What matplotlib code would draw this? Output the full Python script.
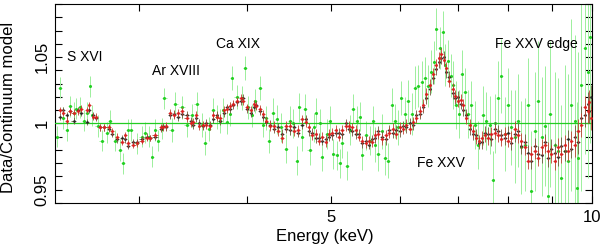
import numpy as np
import matplotlib
matplotlib.use('Agg')
import matplotlib.pyplot as plt
from matplotlib.ticker import FixedLocator, FixedFormatter, NullFormatter, MultipleLocator

plt.rcParams['font.family'] = ['Liberation Sans', 'DejaVu Sans']

# Datos: cociente datos/continuo (dos detectores FI: rojo y negro, mismo binning)
energia_fi = [
    2.432, 2.454, 2.475, 2.498, 2.521, 2.553, 2.572, 2.611, 2.629, 2.658, 2.676, 2.705, 2.737, 2.767,
    2.795, 2.829, 2.866, 2.892, 2.915, 2.956, 2.981, 3.021, 3.061, 3.089, 3.132, 3.180, 3.201,
    3.225, 3.257, 3.293, 3.329, 3.361, 3.404, 3.441, 3.467, 3.492, 3.521, 3.554, 3.586, 3.622, 3.654,
    3.687, 3.720, 3.761, 3.786, 3.820, 3.854, 3.894, 3.930, 3.958, 3.999, 4.037, 4.072, 4.099, 4.137,
    4.175, 4.209,
    4.248, 4.298, 4.343, 4.390, 4.432, 4.480, 4.533, 4.580, 4.630, 4.673, 4.711, 4.754, 4.800, 4.838,
    4.883, 4.929, 4.968, 5.013, 5.060, 5.102, 5.148, 5.198, 5.239, 5.287, 5.337, 5.380, 5.429, 5.481,
    5.525, 5.576,
    5.617, 5.664, 5.716, 5.784, 5.831, 5.886, 5.940, 6.000, 6.054, 6.107, 6.162, 6.218, 6.270, 6.328,
    6.385, 6.439, 6.498, 6.556, 6.605, 6.660, 6.703, 6.746, 6.791, 6.838, 6.903, 6.952, 7.004, 7.051,
    7.101, 7.161, 7.226, 7.292, 7.354, 7.406,
    7.455, 7.522, 7.585, 7.655, 7.726, 7.789, 7.861, 7.933, 7.998, 8.073, 8.147, 8.214, 8.291, 8.366,
    8.436, 8.514, 8.592, 8.663, 8.744, 8.823, 8.896, 8.979, 9.060, 9.135, 9.220, 9.304, 9.380, 9.468,
    9.554, 9.633, 9.724, 9.812, 9.893, 9.930, 9.970,
]

ratio_rojo = [
    1.010, 1.008, 1.002, 1.009, 1.008, 1.009, 1.011, 1.010, 1.014, 1.005, 1.005, 0.997, 0.997, 0.997,
    0.994, 0.990, 0.986, 0.991, 0.985, 0.984, 0.985, 0.987, 0.989, 0.989, 0.991, 0.997, 0.997,
    0.998, 1.008, 1.006, 1.008, 1.009, 1.004, 1.000, 1.001, 1.006, 0.998, 0.999, 0.999, 0.998, 1.006,
    1.005, 1.004, 1.010, 1.011, 1.013, 1.015, 1.017, 1.019, 1.017, 1.012, 1.010, 1.015, 1.013, 1.011,
    1.007, 1.002,
    0.998, 0.998, 0.994, 0.989, 0.998, 0.998, 0.994, 0.995, 1.003, 1.001, 0.997, 0.991, 0.992, 0.987,
    0.990, 0.986, 0.992, 0.993, 0.995, 0.990, 0.995, 0.998, 0.998, 0.997, 0.995, 0.990, 0.987, 0.985,
    0.987, 0.986,
    0.991, 0.992, 0.988, 0.991, 0.993, 0.996, 0.992, 0.997, 0.996, 0.999, 0.996, 1.001, 1.004, 1.009,
    1.014, 1.022, 1.029, 1.037, 1.044, 1.049, 1.052, 1.048, 1.042, 1.032, 1.026, 1.021, 1.017, 1.018,
    1.014, 1.004, 0.999, 0.994, 0.989, 0.987,
    0.989, 0.991, 0.989, 0.992, 0.993, 0.991, 0.988, 0.992, 0.987, 0.989, 0.996, 0.991, 0.987, 0.982,
    0.972, 0.977, 0.979, 0.974, 0.982, 0.984, 0.979, 0.977, 0.972, 0.982, 0.977, 0.984, 0.979, 0.987,
    0.984, 0.994, 0.999, 1.012, 1.009, 1.016, 1.004,
]

ratio_negro = [
    1.005, 1.010, 1.006, 1.009, 1.002, 1.010, 1.008, 1.001, 1.010, 1.006, 1.004, 0.997, 0.997, 0.996,
    0.992, 0.988, 0.989, 0.988, 0.983, 0.986, 0.986, 0.988, 0.990, 0.989, 0.990, 0.996, 0.998,
    0.997, 1.006, 1.007, 1.005, 1.007, 1.006, 1.002, 0.999, 1.004, 1.000, 0.998, 1.000, 0.999, 1.003,
    1.006, 1.002, 1.008, 1.012, 1.011, 1.014, 1.016, 1.017, 1.019, 1.011, 1.008, 1.012, 1.014, 1.009,
    1.005, 1.001,
    0.999, 0.996, 0.997, 0.992, 0.996, 0.995, 0.997, 0.993, 0.999, 1.003, 0.994, 0.993, 0.989, 0.989,
    0.987, 0.988, 0.990, 0.991, 0.993, 0.993, 0.992, 1.000, 0.996, 0.994, 0.992, 0.992, 0.985, 0.987,
    0.984, 0.988,
    0.989, 0.994, 0.990, 0.988, 0.995, 0.993, 0.995, 0.994, 0.998, 0.997, 1.000, 0.999, 1.006, 1.007,
    1.012, 1.019, 1.026, 1.034, 1.041, 1.046, 1.049, 1.050, 1.039, 1.035, 1.023, 1.019, 1.020, 1.015,
    1.010, 1.006, 0.996, 0.992, 0.991, 0.985,
    0.986, 0.993, 0.992, 0.988, 0.996, 0.994, 0.991, 0.989, 0.993, 0.985, 0.992, 0.994, 0.983, 0.986,
    0.978, 0.972, 0.983, 0.977, 0.976, 0.986, 0.974, 0.981, 0.978, 0.975, 0.983, 0.979, 0.988, 0.981,
    0.990, 0.986, 1.004, 1.006, 1.015, 1.009, 1.020,
]

error_fi = [
    0.0025, 0.0025, 0.0025, 0.0025, 0.0025, 0.0025, 0.0025, 0.0025, 0.0025, 0.0025, 0.0025, 0.0025,
    0.0025, 0.0025, 0.0025, 0.0025, 0.0025, 0.0025, 0.0025, 0.0025, 0.0025, 0.0025, 0.0025, 0.0025,
    0.0025, 0.0025, 0.0025,
    0.003, 0.003, 0.003, 0.003, 0.003, 0.003, 0.003, 0.003, 0.003, 0.003, 0.003, 0.003, 0.003, 0.003,
    0.003, 0.003, 0.003, 0.003, 0.003, 0.003, 0.003, 0.003, 0.003, 0.003, 0.003, 0.003, 0.003, 0.003,
    0.003, 0.003,
    0.0035, 0.0035, 0.0035, 0.0035, 0.0035, 0.0035, 0.0035, 0.0035, 0.0035, 0.0035, 0.0035, 0.0035,
    0.0035, 0.0035, 0.0035, 0.0035, 0.0035, 0.0035, 0.0035, 0.0035, 0.0035, 0.0035, 0.0035, 0.0035,
    0.0035, 0.0035, 0.0035, 0.0035, 0.0035, 0.0035,
    0.004, 0.004, 0.004, 0.004, 0.004, 0.004, 0.004, 0.004, 0.004, 0.004, 0.004, 0.004, 0.004, 0.004,
    0.0045, 0.0045, 0.0045, 0.0045, 0.0045, 0.0045, 0.0045, 0.0045, 0.0045, 0.0045, 0.0045, 0.0045,
    0.0045, 0.0045, 0.0045, 0.0045, 0.0045, 0.0045, 0.0045, 0.0045,
    0.005, 0.005, 0.005, 0.005, 0.005, 0.005, 0.005, 0.005, 0.005, 0.005,
    0.006, 0.006, 0.006, 0.006, 0.006, 0.006, 0.006, 0.006, 0.006, 0.006,
    0.007, 0.007, 0.007, 0.007, 0.007, 0.007, 0.007, 0.007,
    0.009, 0.009, 0.009, 0.009, 0.009, 0.009, 0.009,
]

# Tercer detector (verde), mas ruidoso
energia_verde = [
    2.413, 2.432, 2.454, 2.475, 2.498, 2.521, 2.537, 2.565, 2.589, 2.611, 2.634, 2.651, 2.688, 2.717,
    2.754, 2.778, 2.816, 2.852, 2.878, 2.910, 2.937, 2.981, 3.021, 3.049, 3.081, 3.109, 3.132, 3.158,
    3.187, 3.209,
    3.273, 3.302, 3.361, 3.404, 3.451, 3.499, 3.545, 3.577, 3.615, 3.649, 3.687, 3.720, 3.754, 3.786,
    3.820, 3.838, 3.892, 3.940, 3.977, 4.009, 4.047, 4.084, 4.137, 4.175, 4.209, 4.239,
    4.287, 4.324, 4.376, 4.432, 4.480, 4.521, 4.560, 4.591, 4.630, 4.663, 4.724, 4.780, 4.800, 4.852,
    4.875, 4.941, 4.982, 5.027, 5.073, 5.116, 5.148, 5.212, 5.254, 5.301, 5.351, 5.395, 5.429, 5.481,
    5.541, 5.592,
    5.617, 5.664, 5.716, 5.768, 5.816, 5.870, 5.924, 5.973, 6.027, 6.082, 6.134, 6.191, 6.247, 6.298,
    6.357, 6.415, 6.468, 6.527, 6.569, 6.613, 6.673, 6.723, 6.765, 6.820, 6.866, 6.914, 6.965, 7.023,
    7.070, 7.134, 7.193, 7.259, 7.327, 7.387,
    7.488, 7.552, 7.620, 7.681, 7.726, 7.789, 7.861, 7.933, 7.998, 8.073, 8.147, 8.214, 8.291, 8.366,
    8.436, 8.514, 8.592, 8.663, 8.744, 8.823, 8.890, 8.937, 9.060, 9.135, 9.220, 9.304, 9.380, 9.468,
    9.554, 9.601, 9.633, 9.724, 9.812, 9.893, 9.939,
]

ratio_verde = [
    0.990, 1.027, 1.004, 0.995, 1.013, 1.008, 1.011, 1.012, 1.002, 1.008, 1.028, 1.006, 0.998, 0.987,
    0.993, 1.002, 0.987, 0.980, 0.970, 0.995, 0.995, 0.985, 0.990, 0.993, 0.990, 0.975, 0.995, 0.987,
    0.996, 1.019,
    0.995, 1.015, 1.012, 0.999, 1.006, 1.015, 0.999, 0.985, 0.996, 1.010, 1.005, 1.002, 1.010, 1.001,
    1.007, 1.034, 1.020, 1.019, 1.042, 1.012, 1.006, 1.017, 1.027, 0.999, 1.004, 0.987,
    1.008, 1.003, 0.997, 0.981, 1.002, 1.000, 0.972, 1.012, 0.990, 1.011, 0.980, 0.997, 1.008, 1.000,
    0.975, 0.992, 1.002, 0.977, 0.976, 0.970, 0.985, 0.968, 0.995, 1.011, 1.002, 1.005, 0.976, 0.991,
    0.987, 1.002,
    0.984, 0.977, 0.994, 0.974, 0.972, 1.014, 1.002, 0.997, 1.019, 1.007, 1.017, 1.007, 1.027, 1.028,
    1.031, 1.034, 1.028, 1.039, 1.046, 1.071, 1.057, 1.069, 1.044, 1.047, 1.036, 1.029, 1.014, 1.007,
    1.037, 1.024, 1.007, 1.014, 0.999, 0.984,
    1.006, 1.002, 0.999, 0.957, 1.000, 1.019, 1.036, 0.992, 1.014, 0.997, 0.990, 1.002, 0.982, 0.984,
    1.014, 0.949, 0.994, 1.017, 0.990, 0.998, 0.945, 1.007, 0.984, 0.979, 0.959, 0.979, 0.972, 1.014,
    1.002, 0.951, 0.974, 1.029, 1.057, 1.039, 1.065,
]

error_verde = [
    0.008, 0.008, 0.008, 0.008, 0.008, 0.008, 0.008, 0.008, 0.008, 0.008, 0.008, 0.008, 0.008, 0.008,
    0.008, 0.008, 0.008, 0.008, 0.008, 0.008, 0.008, 0.008, 0.008, 0.008, 0.008, 0.008, 0.008, 0.008,
    0.008, 0.008,
    0.009, 0.009, 0.009, 0.009, 0.009, 0.009, 0.009, 0.009, 0.009, 0.009, 0.009, 0.009, 0.009, 0.009,
    0.009, 0.009, 0.009, 0.009, 0.009, 0.009, 0.009, 0.009, 0.009, 0.009, 0.009, 0.009,
    0.011, 0.011, 0.011, 0.011, 0.011, 0.011, 0.011, 0.011, 0.011, 0.011, 0.011, 0.011, 0.011, 0.011,
    0.011, 0.011, 0.011, 0.011, 0.011, 0.011, 0.011, 0.011, 0.011, 0.011, 0.011, 0.011, 0.011, 0.011,
    0.011, 0.011,
    0.013, 0.013, 0.013, 0.013, 0.013, 0.013, 0.013, 0.013, 0.013, 0.013,
    0.016, 0.016, 0.016, 0.016, 0.016, 0.016, 0.016, 0.016, 0.016, 0.016, 0.016, 0.016, 0.016, 0.016,
    0.016, 0.018, 0.018, 0.018, 0.018, 0.018, 0.018, 0.018, 0.018, 0.018,
    0.022, 0.022, 0.022, 0.022, 0.022, 0.028, 0.028, 0.028, 0.028, 0.028,
    0.035, 0.035, 0.035, 0.035, 0.035, 0.045, 0.045, 0.045, 0.045, 0.045,
    0.055, 0.055, 0.055, 0.055, 0.055, 0.065, 0.065, 0.065, 0.065, 0.065,
    0.080, 0.080, 0.080, 0.080, 0.080,
]

etiquetas = ['S XVI', 'Ar XVIII', 'Ca XIX', 'Fe XXV edge', 'Fe XXV']
pos_etiquetas = [(0.022, 0.735), (0.181, 0.665), (0.300, 0.800), (0.819, 0.800), (0.674, 0.200)]

# Semi-anchura de cada bin
xerr_fi = np.gradient(energia_fi) / 2
xerr_verde = np.gradient(energia_verde) / 2

fig = plt.figure(figsize=(6.0, 2.46), dpi=100)
ax = fig.add_axes([0.0917, 0.1748, 0.8950, 0.8089])

ax.errorbar(energia_verde, ratio_verde, yerr=error_verde, xerr=xerr_verde, fmt='o', ms=1.2,
            color='#22d022', ecolor='#9cef9c', elinewidth=0.7, capsize=0, zorder=2)
ax.axhline(1.0, color='#22cc22', lw=0.9, zorder=3)
ax.errorbar(energia_fi, ratio_negro, yerr=error_fi, xerr=xerr_fi, fmt='o', ms=1.0,
            color='#222222', ecolor='#6a5a3a', elinewidth=0.7, capsize=0, alpha=0.85, zorder=4)
ax.errorbar(energia_fi, ratio_rojo, yerr=error_fi, xerr=xerr_fi, fmt='o', ms=1.2,
            color='#dd2020', ecolor='#c04030', elinewidth=0.7, capsize=0, alpha=0.85, zorder=5)

ax.set_xscale('log')
ax.set_xlim(2.4, 10)
ax.set_ylim(0.94, 1.09)

ax.xaxis.set_major_locator(FixedLocator([5, 10]))
ax.xaxis.set_major_formatter(FixedFormatter(['5', '10']))
ax.xaxis.set_minor_locator(FixedLocator([3, 4, 6, 7, 8, 9]))
ax.xaxis.set_minor_formatter(NullFormatter())
ax.yaxis.set_major_locator(FixedLocator([0.95, 1.0, 1.05]))
ax.yaxis.set_major_formatter(FixedFormatter(['0.95', '1', '1.05']))
ax.yaxis.set_minor_locator(MultipleLocator(0.01))

ax.tick_params(which='both', direction='in', top=True, right=True, length=5, width=0.8,
               labelsize=12)
ax.tick_params(axis='x', pad=5)
ax.tick_params(axis='y', pad=4)
plt.setp(ax.get_yticklabels(), rotation=90, va='center')

ax.set_xlabel('Energy (keV)', fontsize=12)
ax.set_ylabel('Data/Continuum model', fontsize=12)
ax.xaxis.set_label_coords(0.503, -0.13)
ax.yaxis.set_label_coords(-0.072, 0.48)

for texto, (px, py) in zip(etiquetas, pos_etiquetas):
    ax.text(px, py, texto, transform=ax.transAxes, fontsize=10, ha='left', va='center')

for s in ax.spines.values():
    s.set_linewidth(0.8)

fig.savefig('out.png', dpi=100)
